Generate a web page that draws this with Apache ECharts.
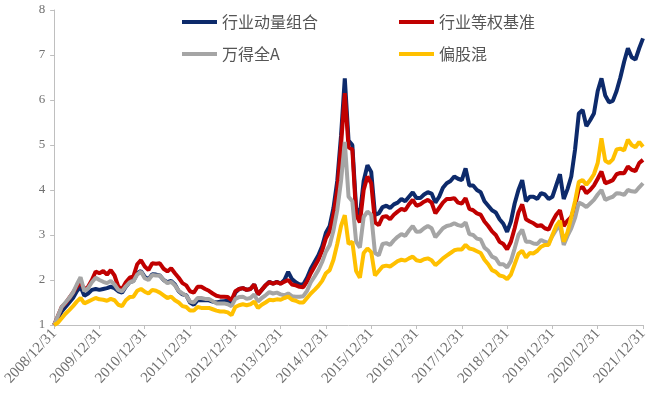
<!DOCTYPE html>
<html>
<head>
<meta charset="utf-8">
<script src="https://cdn.jsdelivr.net/npm/echarts@6/dist/echarts.min.js"></script>
<style>html,body{margin:0;padding:0;background:#fff;}#c{width:654px;height:396px;}</style>
</head>
<body>
<div id="c"></div>
<script>
// Monthly month-end categories from 2008/12 to 2021/12
const startYear = 2008, startMonth = 12, endYear = 2021, endMonth = 12;
const categories = [];
for (let y = startYear, m = startMonth; y < endYear || (y === endYear && m <= endMonth); ) {
  const last = new Date(y, m, 0).getDate();
  categories.push(y + '/' + String(m).padStart(2, '0') + '/' + last);
  m++; if (m > 12) { m = 1; y++; }
}

const seriesNames = ['行业动量组合', '行业等权基准', '万得全A', '偏股混'];

const momentum = [1.0,
 1.15,1.3,1.4,1.5,1.6,1.75,1.85,1.65,1.7,1.78,1.8,1.78,
 1.8,1.82,1.85,1.82,1.75,1.72,1.85,1.95,1.98,2.15,2.2,2.07,
 2.02,2.13,2.12,2.1,2.0,1.95,1.98,1.9,1.75,1.68,1.66,1.5,
 1.45,1.55,1.55,1.55,1.55,1.52,1.5,1.52,1.53,1.54,1.5,1.72,
 1.8,1.82,1.78,1.8,1.9,1.68,1.78,1.88,1.96,1.92,1.96,1.92,
 2.0,2.18,2.02,1.95,1.9,1.9,2.05,2.25,2.4,2.55,2.75,3.05,
 3.2,3.6,4.2,5.2,6.48,5.1,5.0,3.6,3.45,4.2,4.55,4.4,
 3.45,3.48,3.62,3.65,3.6,3.68,3.72,3.8,3.75,3.85,3.95,3.82,
 3.82,3.9,3.95,3.92,3.72,3.85,4.05,4.15,4.2,4.3,4.25,4.22,
 4.48,4.1,4.1,4.0,3.95,3.75,3.65,3.55,3.5,3.35,3.25,3.07,
 3.3,3.7,4.0,4.22,3.75,3.85,3.85,3.8,3.93,3.9,3.8,3.85,
 4.1,4.35,3.8,4.02,4.3,4.9,5.7,5.78,5.42,5.55,5.7,6.2,
 6.48,6.1,5.95,5.98,6.2,6.5,6.85,7.15,6.95,6.9,7.15,7.37];

const equalWeight = [1.0,
 1.2,1.4,1.48,1.6,1.72,1.85,1.96,1.78,1.85,2.0,2.19,2.15,
 2.2,2.12,2.22,2.1,1.85,1.8,1.95,2.05,2.08,2.35,2.44,2.3,
 2.22,2.37,2.36,2.37,2.25,2.19,2.26,2.15,2.05,1.93,1.88,1.75,
 1.72,1.85,1.85,1.8,1.76,1.7,1.65,1.63,1.63,1.62,1.55,1.75,
 1.8,1.82,1.78,1.8,1.9,1.68,1.78,1.88,1.95,1.92,1.95,1.92,
 1.96,2.0,1.9,1.88,1.85,1.84,1.97,2.15,2.3,2.45,2.65,2.93,
 3.08,3.45,4.0,5.0,6.15,4.95,4.9,3.45,3.28,4.0,4.3,4.15,
 3.28,3.22,3.4,3.42,3.35,3.45,3.52,3.58,3.55,3.68,3.78,3.65,
 3.68,3.74,3.78,3.72,3.48,3.6,3.72,3.8,3.8,3.82,3.72,3.7,
 3.82,3.58,3.55,3.48,3.45,3.3,3.2,3.08,3.0,2.85,2.8,2.68,
 2.85,3.15,3.5,3.68,3.35,3.3,3.26,3.2,3.22,3.15,3.12,3.3,
 3.45,3.55,3.2,3.32,3.4,3.65,4.02,4.07,3.93,4.0,4.1,4.25,
 4.41,4.15,4.18,4.22,4.35,4.38,4.37,4.52,4.45,4.42,4.6,4.67];

const windA = [1.0,
 1.2,1.4,1.5,1.6,1.72,1.9,2.06,1.75,1.82,1.95,2.05,2.0,
 1.96,1.93,1.98,1.9,1.78,1.75,1.86,1.95,1.97,2.12,2.19,2.04,
 2.0,2.11,2.1,2.1,2.0,1.93,1.96,1.88,1.76,1.7,1.65,1.52,
 1.5,1.6,1.6,1.58,1.58,1.53,1.48,1.48,1.48,1.46,1.42,1.58,
 1.62,1.63,1.58,1.6,1.68,1.52,1.6,1.66,1.73,1.7,1.72,1.68,
 1.66,1.7,1.64,1.63,1.63,1.64,1.76,1.95,2.08,2.22,2.4,2.63,
 2.78,3.1,3.55,4.2,5.07,3.85,3.75,2.85,2.72,3.4,3.52,3.45,
 2.6,2.55,2.8,2.82,2.78,2.88,2.96,3.02,2.98,3.1,3.2,3.07,
 3.08,3.15,3.2,3.15,2.95,3.05,3.15,3.2,3.22,3.26,3.22,3.2,
 3.28,3.02,3.0,2.92,2.9,2.72,2.65,2.52,2.48,2.35,2.35,2.28,
 2.42,2.7,3.0,3.12,2.85,2.85,2.81,2.8,2.89,2.85,2.82,2.98,
 3.12,3.2,2.78,2.98,3.15,3.38,3.72,3.68,3.62,3.7,3.78,3.9,
 4.0,3.78,3.82,3.85,3.93,3.92,3.89,4.0,3.97,3.96,4.06,4.15];

const equityHybrid = [1.0,
 1.05,1.15,1.25,1.33,1.42,1.52,1.6,1.48,1.52,1.56,1.6,1.57,
 1.56,1.54,1.58,1.55,1.45,1.42,1.55,1.62,1.63,1.76,1.8,1.74,
 1.7,1.78,1.76,1.72,1.66,1.6,1.63,1.55,1.5,1.42,1.4,1.32,
 1.32,1.4,1.38,1.38,1.38,1.35,1.32,1.3,1.3,1.28,1.22,1.4,
 1.44,1.46,1.44,1.46,1.52,1.38,1.45,1.5,1.56,1.55,1.57,1.56,
 1.6,1.63,1.56,1.54,1.5,1.5,1.6,1.7,1.78,1.87,1.98,2.15,
 2.22,2.45,2.8,3.2,3.44,2.8,2.85,2.2,2.05,2.6,2.7,2.62,
 2.1,2.2,2.3,2.32,2.3,2.36,2.42,2.45,2.43,2.48,2.52,2.44,
 2.42,2.46,2.48,2.44,2.33,2.4,2.48,2.54,2.6,2.66,2.68,2.68,
 2.78,2.7,2.68,2.64,2.6,2.45,2.35,2.22,2.18,2.1,2.08,2.02,
 2.12,2.35,2.58,2.65,2.5,2.6,2.59,2.65,2.74,2.78,2.78,3.0,
 3.2,3.32,2.85,3.06,3.4,3.75,4.18,4.22,4.12,4.22,4.35,4.6,
 5.15,4.65,4.6,4.68,4.9,4.92,4.88,5.12,5.0,4.95,5.07,4.96];

const colors = ['#0d2a6b', '#c00000', '#a5a5a5', '#ffc000'];
const values = [momentum, equalWeight, windA, equityHybrid];

const chart = echarts.init(document.getElementById('c'), null, {renderer: 'canvas'});
const legendText = {color: '#555555', fontSize: 16, fontFamily: 'Noto Sans CJK SC'};
chart.setOption({
  animation: false,
  backgroundColor: '#ffffff',
  grid: {left: 54, right: 11, top: 10, bottom: 71, containLabel: false},
  legend: [
    {data: [seriesNames[0], seriesNames[2]], orient: 'vertical', left: 177, top: 9,
     itemWidth: 35, itemHeight: 4, itemGap: 16, icon: 'rect', textStyle: legendText},
    {data: [seriesNames[1], seriesNames[3]], orient: 'vertical', left: 394, top: 9,
     itemWidth: 35, itemHeight: 4, itemGap: 16, icon: 'rect', textStyle: legendText}
  ],
  xAxis: {
    type: 'category', data: categories, boundaryGap: false,
    axisLine: {lineStyle: {color: '#bfbfbf', width: 1}},
    axisTick: {interval: 11, length: 4, lineStyle: {color: '#bfbfbf'}},
    axisLabel: {interval: 11, rotate: 47, color: '#707070', fontSize: 15,
                fontFamily: 'Liberation Serif', margin: 6},
    splitLine: {show: false}
  },
  yAxis: {
    type: 'value', min: 1, max: 8, interval: 1,
    axisLine: {show: true, lineStyle: {color: '#bfbfbf', width: 1}},
    axisTick: {show: true, length: 4, lineStyle: {color: '#bfbfbf'}},
    axisLabel: {color: '#707070', fontSize: 13, fontFamily: 'Liberation Serif', margin: 9},
    splitLine: {show: false}
  },
  series: seriesNames.map((n, i) => ({
    name: n, type: 'line', data: values[i], showSymbol: false, symbol: 'none',
    lineStyle: {color: colors[i], width: 4}, itemStyle: {color: colors[i]}
  }))
});
</script>
</body>
</html>
